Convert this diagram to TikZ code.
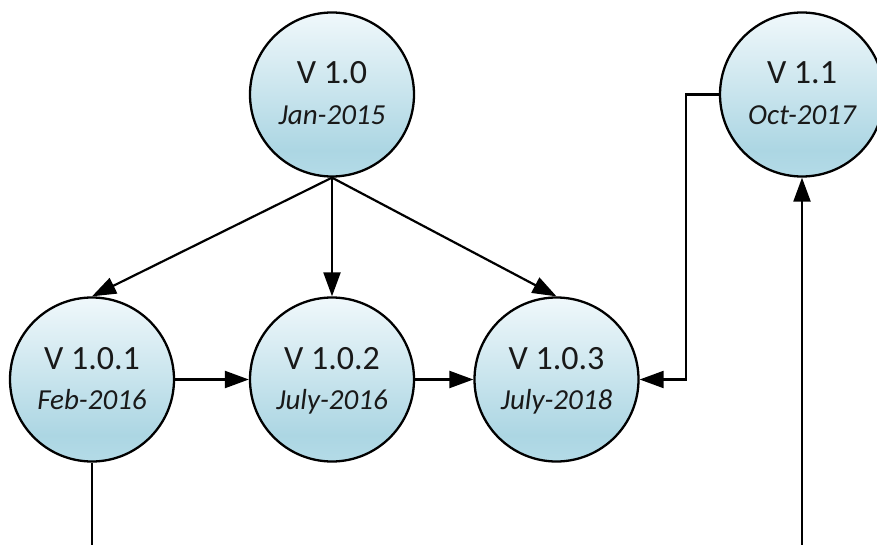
\documentclass[tikz,border=0pt]{standalone}
\usepackage{fontspec}
\setmainfont{Carlito}
\usetikzlibrary{arrows.meta}

\definecolor{vtop}{RGB}{240,248,251}
\definecolor{vmid}{RGB}{172,214,227}
\definecolor{vlow}{RGB}{180,219,231}
\pgfdeclareverticalshading{vshade}{100bp}{%
  color(0bp)=(vlow); color(25bp)=(vlow); color(33bp)=(vmid);
  color(75bp)=(vtop); color(100bp)=(vtop)}

\tikzset{
  vcirc/.style={circle, draw=black, line width=2.3pt, minimum size=164pt,
    inner sep=0pt, shading=vshade},
  vtitle/.style={anchor=base, inner sep=0pt, text=black!90,
    font=\fontsize{34}{38}\selectfont},
  vdate/.style={anchor=base, inner sep=0pt, text=black!90,
    font=\fontsize{29}{33}\selectfont\itshape},
  arr/.style={line width=2.2pt, -{Triangle[length=24pt,width=17pt]}},
  plain/.style={line width=2.2pt}
}

% a version: circle with its number and release date
\newcommand\vnode[5]{%
  \node[vcirc] (#1) at (#2,#3) {};
  \node[vtitle] (#1-t) at ([yshift=10.5pt]#1.center) {#4};
  \node[vdate] (#1-d) at ([yshift=-30pt]#1.center) {#5};
}

\begin{document}
\begin{tikzpicture}[x=1pt,y=-1pt]
  \useasboundingbox (0,0) rectangle (877,545);

  \vnode{v10}{332}{94.5}{V 1.0}{Jan-2015}
  \vnode{v11}{802}{94.5}{V 1.1}{Oct-2017}
  \vnode{v101}{92}{379.5}{V 1.0.1}{Feb-2016}
  \vnode{v102}{332}{379.5}{V 1.0.2}{July-2016}
  \vnode{v103}{556.5}{379.5}{V 1.0.3}{July-2018}

  \coordinate (b101) at (92,545);
  \coordinate (b11) at (802,545);

  \draw[arr] (v10.south) -- (v101.north);
  \draw[arr] (v10.south) -- (v102.north);
  \draw[arr] (v10.south) -- (v103.north);
  \draw[arr] (v101.east) -- (v102.west);
  \draw[arr] (v102.east) -- (v103.west);
  \draw[arr] (v11.west) -- ++(-33,0) |- (v103.east);
  \draw[plain] (v101.south) -- (b101);
  \draw[arr] (b11) -- (v11.south);
\end{tikzpicture}
\end{document}
